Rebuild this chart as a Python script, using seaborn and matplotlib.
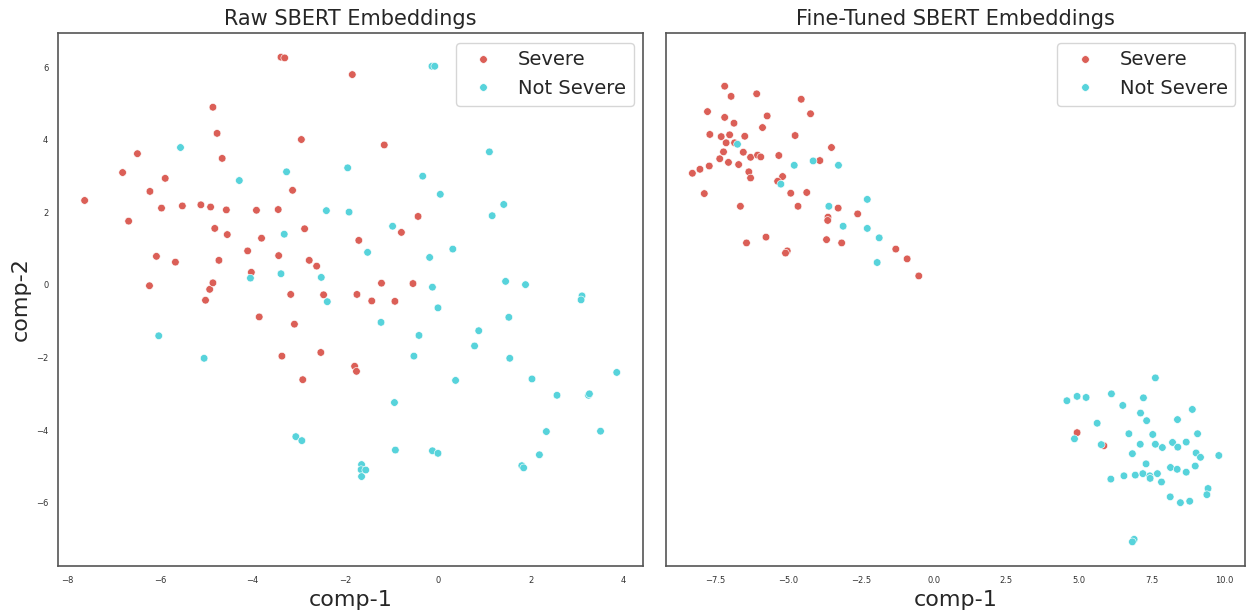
import pandas as pd
import matplotlib
matplotlib.use('Agg')
import matplotlib.pyplot as plt
import seaborn as sns

# Raw SBERT embeddings (2-D projection)
raw_severe_x = [-7.63, -6.81, -6.49, -6.68, -6.22, -5.89, -6.23, -6.08, -5.97, -5.67,
                -5.52, -5.12, -5.02, -4.93, -4.91, -4.86, -4.86, -4.82, -4.77, -4.73,
                -4.66, -4.57, -4.55, -4.11, -4.03, -3.92, -3.86, -3.81, -3.45, -3.44,
                -3.39, -3.31, -3.37, -3.14, -3.18, -3.10, -2.95, -2.92, -2.88, -2.78,
                -2.62, -2.53, -2.47, -1.85, -1.71, -1.75, -1.80, -1.76, -1.43, -1.16,
                -0.93, -0.79, -1.22, -0.54, -0.43]
raw_severe_y = [2.33, 3.10, 3.62, 1.76, 2.58, 2.94, -0.02, 0.79, 2.12, 0.63,
                2.18, 2.21, -0.42, -0.12, 2.15, 0.06, 4.90, 1.56, 4.18, 0.68,
                3.49, 2.07, 1.39, 0.94, 0.35, 2.06, -0.88, 1.29, 2.08, 0.81,
                6.28, 6.26, -1.96, 2.61, -0.26, -1.08, 4.01, -2.61, 1.55, 0.68,
                0.52, -1.86, -0.27, 5.80, 1.23, -0.26, -2.24, -2.38, -0.44, 3.86,
                -0.45, 1.45, 0.05, 0.04, 1.89]
raw_not_x = [-5.56, -4.29, -6.03, -5.05, -4.05, -3.27, -3.32, -3.39, -3.07, -2.94,
             -2.41, -2.52, -2.39, -1.95, -1.92, -1.52, -1.65, -1.66, -1.56, -1.65,
             -1.23, -0.98, -0.94, -0.92, -0.41, -0.52, -0.33, -0.18, -0.13, -0.07,
             -0.12, 0.00, -0.12, 0.00, 0.05, 0.32, 0.38, 1.11, 1.17, 1.42,
             1.46, 1.89, 1.53, 0.88, 0.79, 1.55, 3.11, 3.09, 2.03, 2.57,
             3.25, 3.27, 2.34, 3.51, 2.19, 1.81, 1.85, 3.86]
raw_not_y = [3.79, 2.88, -1.40, -2.02, 0.19, 3.12, 1.40, 0.31, -4.18, -4.29,
             2.05, 0.21, -0.46, 3.23, 2.01, 0.90, -4.95, -5.09, -5.10, -5.28,
             -1.03, 1.62, -3.24, -4.55, -1.39, -1.96, 3.00, 0.76, 6.03, 6.03,
             -0.06, -0.63, -4.57, -4.64, 2.50, 0.99, -2.63, 3.67, 1.91, 2.22,
             0.10, 0.01, -0.89, -1.26, -1.68, -2.02, -0.30, -0.41, -2.59, -3.04,
             -3.04, -3.00, -4.04, -4.03, -4.68, -4.98, -5.04, -2.41]

# Fine-tuned SBERT embeddings (2-D projection)
ft_severe_x = [-7.18, -6.96, -6.08, -4.55, -7.77, -7.18, -6.86, -5.72, -4.23, -5.88,
               -7.69, -7.30, -7.01, -6.49, -4.76, -7.13, -6.84, -3.51, -7.22, -6.54,
               -6.29, -6.05, -5.94, -5.32, -7.35, -7.05, -6.70, -7.71, -8.03, -8.29,
               -3.91, -6.35, -6.29, -5.19, -5.36, -7.88, -4.91, -4.36, -6.64, -4.66,
               -3.28, -2.61, -3.63, -3.64, -5.76, -6.43, -3.68, -3.16, -5.03, -5.09,
               -1.30, -0.91, -0.51, 4.93, 5.85]
ft_severe_y = [5.48, 5.20, 5.27, 5.12, 4.78, 4.62, 4.46, 4.66, 4.72, 4.34,
               4.15, 4.09, 4.14, 4.10, 4.12, 3.92, 3.92, 3.79, 3.67, 3.66,
               3.52, 3.58, 3.53, 3.57, 3.48, 3.38, 3.32, 3.28, 3.19, 3.08,
               3.43, 3.12, 2.95, 2.99, 2.86, 2.52, 2.53, 2.55, 2.17, 2.17,
               2.12, 1.96, 1.87, 1.78, 1.32, 1.16, 1.25, 1.16, 0.94, 0.88,
               0.99, 0.72, 0.25, -4.07, -4.43]
ft_not_x = [-6.74, -4.79, -4.14, -3.27, -5.25, -2.28, -3.60, -3.11, -2.28, -1.87,
            -1.94, 7.62, 4.58, 4.93, 5.24, 6.11, 7.21, 6.50, 8.89, 7.11,
            7.32, 8.38, 5.62, 4.84, 6.71, 7.53, 9.07, 5.76, 7.10, 7.62,
            7.86, 8.21, 8.39, 8.68, 6.83, 9.02, 9.17, 9.80, 7.30, 8.14,
            8.37, 8.99, 8.68, 6.09, 6.54, 6.93, 7.19, 7.43, 7.44, 7.69,
            7.83, 9.43, 9.39, 8.13, 8.48, 8.80, 6.89, 6.83]
ft_not_y = [3.88, 3.30, 3.42, 3.30, 2.78, 2.36, 2.17, 1.62, 1.56, 1.30,
            0.62, -2.56, -3.19, -3.07, -3.10, -3.00, -3.11, -3.32, -3.43, -3.53,
            -3.74, -3.71, -3.81, -4.24, -4.10, -4.12, -4.10, -4.40, -4.39, -4.39,
            -4.48, -4.34, -4.47, -4.33, -4.65, -4.63, -4.75, -4.70, -4.93, -5.03,
            -5.08, -4.99, -5.16, -5.35, -5.26, -5.24, -5.20, -5.26, -5.33, -5.20,
            -5.43, -5.61, -5.78, -5.84, -6.00, -5.96, -7.01, -7.08]

labels = ['Severe', 'Not Severe']
titles = ['Raw SBERT Embeddings', 'Fine-Tuned SBERT Embeddings']


def make_df(sx, sy, nx, ny):
    return pd.DataFrame({
        'comp-1': sx + nx,
        'comp-2': sy + ny,
        'label': [labels[0]] * len(sx) + [labels[1]] * len(nx),
    })


df_raw = make_df(raw_severe_x, raw_severe_y, raw_not_x, raw_not_y)
df_ft = make_df(ft_severe_x, ft_severe_y, ft_not_x, ft_not_y)

sns.set_style('white')
palette = sns.color_palette('hls', 2)

fig = plt.figure(figsize=(12.48, 6.1), dpi=100)
ax1 = fig.add_axes([0.0465, 0.072, 0.469, 0.874])
ax2 = fig.add_axes([0.5337, 0.072, 0.464, 0.874], sharey=ax1)

for ax, df, title in [(ax1, df_raw, titles[0]), (ax2, df_ft, titles[1])]:
    sns.scatterplot(data=df, x='comp-1', y='comp-2', hue='label', hue_order=labels,
                    palette=palette, s=30, ax=ax)
    ax.set_title(title, fontsize=15)
    ax.set_xlabel('comp-1', fontsize=16)
    ax.tick_params(labelsize=6, colors='#333333')
    for s in ax.spines.values():
        s.set_color('#555555')
        s.set_linewidth(1.2)
    sns.move_legend(ax, 'upper right', title=None, fontsize=14)

ax1.set_ylabel('comp-2', fontsize=16)
ax2.set_ylabel('')
plt.setp(ax2.get_yticklabels(), visible=False)

plt.savefig('out.png', dpi=100)
